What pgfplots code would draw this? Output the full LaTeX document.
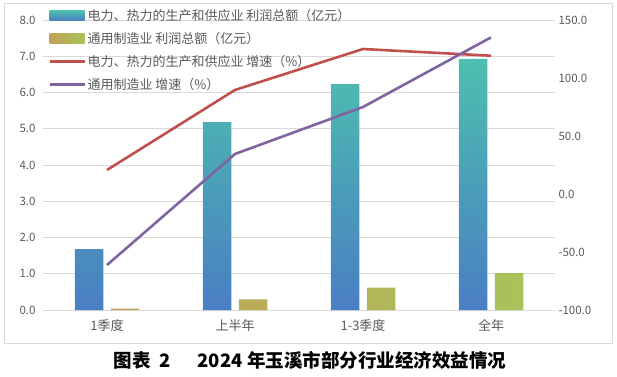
\documentclass[border=0pt]{standalone}
\usepackage{fontspec}
\setmainfont{Noto Sans CJK SC}
\usepackage{pgfplots}
\pgfplotsset{compat=1.18}
\definecolor{teal1}{HTML}{4DBFAF}
\definecolor{blue1}{HTML}{4A7EC3}
\definecolor{olv1}{HTML}{C3A058}
\definecolor{olv2}{HTML}{A9C25A}
\definecolor{redl}{HTML}{C0504D}
\definecolor{purl}{HTML}{8064A2}
\definecolor{gridc}{HTML}{D9D9D9}
\definecolor{txt}{HTML}{595959}
\pgfplotsset{
  base/.style={
    scale only axis, width=512pt, height=290pt,
    at={(43pt,66pt)}, anchor=south west,
    xmin=-0.5, xmax=3.5,
    axis line style={draw=none}, tick style={draw=none},
    /pgf/number format/assume math mode=true,
    /pgf/number format/fixed, /pgf/number format/fixed zerofill, /pgf/number format/precision=1,
    yticklabel style={font=\fontsize{11.5}{12}\selectfont, text=txt},
  }
}
\begin{document}
\begin{tikzpicture}[x=1pt,y=1pt]
\useasboundingbox (0,0) rectangle (617,376);
\draw[gridc, line width=0.75pt] (4,33) rectangle (612,373);
\begin{axis}[base,
  ymin=0, ymax=8, ytick={0,1,...,8},
  ymajorgrids, grid style={gridc, line width=0.75pt},
  xtick={0,1,2,3}, xticklabels={1季度,上半年,1-3季度,全年},
  xticklabel style={font=\fontsize{13}{13}\selectfont, text=txt, yshift=-6pt},
  yticklabel style={xshift=-4pt},
]
\addplot[ybar, bar width=28.5pt, bar shift=-18pt, draw=none, top color=teal1, bottom color=blue1]
  coordinates {(0,1.68) (1,5.18) (2,6.23) (3,6.93)};
\addplot[ybar, bar width=28.5pt, bar shift=18pt, draw=none, left color=olv1, right color=olv2]
  coordinates {(0,0.04) (1,0.29) (2,0.62) (3,1.02)};
\end{axis}
\begin{axis}[base,
  axis y line*=right,
  ymin=-100, ymax=150, ytick={-100,-50,...,150},
  xtick=\empty,
  legend style={at={(rel axis cs:0.004,1.05)}, anchor=north west, draw=none, fill=none,
    font=\fontsize{13}{13}\selectfont, text=txt, row sep=7.5pt,
    nodes={inner sep=1.5pt}},
  legend cell align=left,
]
\addlegendimage{legend image code/.code={\path[draw=none, top color=teal1,bottom color=blue1] (0pt,-5pt) rectangle (35pt,5pt);}}
\addlegendentry{电力、热力的生产和供应业 利润总额（亿元）}
\addlegendimage{legend image code/.code={\path[draw=none, left color=olv1,right color=olv2] (0pt,-5pt) rectangle (35pt,5pt);}}
\addlegendentry{通用制造业 利润总额（亿元）}
\addplot[redl, line width=2.6pt, legend image code/.code={\draw[redl, line width=2.8pt] (0pt,0pt) -- (35pt,0pt);}]
  coordinates {(0,20.7) (1,89.7) (2,125) (3,119.2)};
\addlegendentry{电力、热力的生产和供应业 增速（\%）}
\addplot[purl, line width=2.6pt, legend image code/.code={\draw[purl, line width=2.8pt] (0pt,0.3pt) -- (35pt,0.3pt);}]
  coordinates {(0,-61.2) (1,34.5) (2,75) (3,135)};
\addlegendentry{通用制造业 增速（\%）}
\end{axis}
\node[font=\fontsize{18.5}{18.5}\selectfont\bfseries] at (310,16) {图表\ \ 2\quad\ \ 2024 年玉溪市部分行业经济效益情况};
\end{tikzpicture}
\end{document}
